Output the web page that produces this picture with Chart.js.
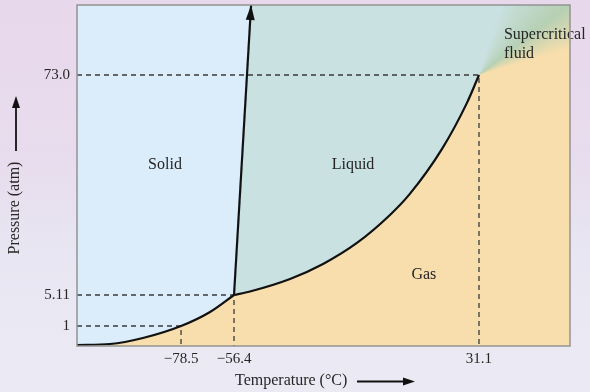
<!DOCTYPE html>
<html><head><meta charset="utf-8">
<script src="https://cdn.jsdelivr.net/npm/chart.js@4"></script>
<style>
html,body{margin:0;padding:0;}
body{width:590px;height:392px;overflow:hidden;background:linear-gradient(180deg,#e8d8eb 0%,#e7dced 40%,#e8e6f2 65%,#ebeaf4 100%);}
#wrap{position:relative;width:590px;height:392px}
</style></head><body>
<div id="wrap"><canvas id="c" width="590" height="392"></canvas></div>
<script>
// ---- data (°C, atm) ----
const keyTemps = [-78.5, -56.4, 31.1];
const keyPressures = [1, 5.11, 73.0];
const xTickLabels = ['\u221278.5', '\u221256.4', '31.1'];
const yTickLabels = ['1', '5.11', '73.0'];
const tempRange = [-120, 64];
const pressRange = [0, 95];
const sublimT = [-120, -106.8, -93.7, -78.5, -66.4, -56.4];
const sublimP = [0.05, 0.1, 0.4, 1, 2.86, 5.11];
const vaporT = [-56.4, -50.7, -36.4, -24.6, -12.5, -0.7, 6.4, 17.9, 26.8, 31.1];
const vaporP = [5.11, 6.19, 10.05, 14.68, 21.16, 29.8, 36.3, 50.2, 64.4, 73.0];
const meltT = [-56.4, -50.3];
const meltP = [5.11, 95];
const regionNames = ['Solid', 'Liquid', 'Gas', 'Supercritical', 'fluid'];
const regionT = [-84.9, -13.9, 11.4, 40.1, 40.1];
const regionP = [45.2, 45.2, 11.3, 85.6, 79.6];

// ---- styles ----
const solidColor = '#dbedfb';
const liquidColor = '#c9e1e0';
const gasColor = '#f7deac';
const textColor = '#262626';
const serif = "'Liberation Serif', 'Times New Roman', serif";

// piecewise (schematic) axis mapping: value anchors -> fraction of axis length
const axisAnchors = {
  x: { v: [tempRange[0], keyTemps[0], keyTemps[1], keyTemps[2], tempRange[1]], f: [0, 0.2110, 0.3185, 0.8154, 1] },
  y: { v: [pressRange[0], keyPressures[0], keyPressures[1], keyPressures[2], pressRange[1]], f: [0, 0.0587, 0.1496, 0.7947, 1] }
};
function interp(val, from, to) {
  let i = 0;
  while (i < from.length - 2 && val > from[i + 1]) i++;
  const t = (val - from[i]) / (from[i + 1] - from[i]);
  return to[i] + t * (to[i + 1] - to[i]);
}
class PiecewiseScale extends Chart.LinearScale {
  static id = 'piecewise';
  getPixelForValue(value) {
    if (value === null || value === undefined || isNaN(value)) return NaN;
    const a = axisAnchors[this.axis];
    return this.getPixelForDecimal(interp(value, a.v, a.f));
  }
  getValueForPixel(pixel) {
    const a = axisAnchors[this.axis];
    return interp(this.getDecimalForPixel(pixel), a.f, a.v);
  }
}
Chart.register(PiecewiseScale);

const pts = (xs, ys) => xs.map((x, i) => ({ x, y: ys[i] }));
const guide = i => ({
  data: [{ x: tempRange[0], y: keyPressures[i] }, { x: keyTemps[i], y: keyPressures[i] }, { x: keyTemps[i], y: pressRange[0] }],
  borderColor: '#3a3a3a', borderWidth: 1.3, borderDash: [5, 4], fill: false, pointRadius: 0, tension: 0
});
const noPad = s => { s.paddingTop = 0; s.paddingBottom = 0; s.paddingLeft = 0; s.paddingRight = 0; };

const decor = {
  id: 'decor',
  beforeDraw(chart) {
    const { ctx, chartArea: a } = chart;
    ctx.save(); ctx.fillStyle = gasColor;
    ctx.fillRect(a.left, a.top, a.right - a.left, a.bottom - a.top);
    ctx.restore();
  },
  afterDatasetsDraw(chart) {
    const { ctx, scales } = chart;
    const m = chart.getDatasetMeta(0).data;
    const p1 = m[m.length - 1], p0 = m[m.length - 2];
    const ang = Math.atan2(p1.y - p0.y, p1.x - p0.x);
    const L = 15, W = 4.5;
    ctx.save();
    ctx.fillStyle = '#111';
    ctx.beginPath();
    ctx.moveTo(p1.x, p1.y);
    ctx.lineTo(p1.x - L * Math.cos(ang) - W * Math.sin(ang), p1.y - L * Math.sin(ang) + W * Math.cos(ang));
    ctx.lineTo(p1.x - L * Math.cos(ang) + W * Math.sin(ang), p1.y - L * Math.sin(ang) - W * Math.cos(ang));
    ctx.closePath(); ctx.fill();
    ctx.fillStyle = textColor;
    ctx.font = '16px ' + serif;
    ctx.textBaseline = 'middle';
    regionNames.forEach((n, i) => {
      ctx.textAlign = i >= 3 ? 'left' : 'center';
      ctx.fillText(n, scales.x.getPixelForValue(regionT[i]), scales.y.getPixelForValue(regionP[i]));
    });
    ctx.restore();
  },
  afterDraw(chart) {
    const { ctx, chartArea: a } = chart;
    ctx.save();
    ctx.strokeStyle = '#939393'; ctx.lineWidth = 1.5;
    ctx.strokeRect(a.left, a.top, a.right - a.left, a.bottom - a.top);
    ctx.fillStyle = textColor; ctx.strokeStyle = '#111';
    ctx.font = '16px ' + serif;
    ctx.textBaseline = 'middle';
    ctx.textAlign = 'left';
    ctx.fillText('Temperature (\u00B0C)', 235, 381);
    ctx.lineWidth = 1.8;
    ctx.beginPath(); ctx.moveTo(357, 381.5); ctx.lineTo(406, 381.5); ctx.stroke();
    ctx.fillStyle = '#111';
    ctx.beginPath(); ctx.moveTo(415, 381.5); ctx.lineTo(403, 377.5); ctx.lineTo(403, 385.5); ctx.closePath(); ctx.fill();
    ctx.save();
    ctx.translate(15, 208); ctx.rotate(-Math.PI / 2);
    ctx.fillStyle = textColor; ctx.textAlign = 'center';
    ctx.fillText('Pressure (atm)', 0, 0);
    ctx.restore();
    ctx.beginPath(); ctx.moveTo(16, 151); ctx.lineTo(16, 105); ctx.stroke();
    ctx.beginPath(); ctx.moveTo(16, 96); ctx.lineTo(12, 108); ctx.lineTo(20, 108); ctx.closePath(); ctx.fill();
    ctx.restore();
  }
};

new Chart(document.getElementById('c'), {
  type: 'line',
  data: {
    datasets: [
      { data: pts(meltT, meltP), borderColor: '#111', borderWidth: 2.2, backgroundColor: solidColor, fill: 'end', pointRadius: 0, tension: 0 },
      { data: pts(sublimT, sublimP), borderColor: '#111', borderWidth: 2.2, backgroundColor: solidColor, fill: 'end', pointRadius: 0, cubicInterpolationMode: 'monotone' },
      { data: pts(vaporT, vaporP), borderColor: '#111', borderWidth: 2.2, backgroundColor: liquidColor, fill: 'end', pointRadius: 0, cubicInterpolationMode: 'monotone' },
      guide(0), guide(1), guide(2),
      { data: [{ x: keyTemps[2], y: keyPressures[2] }, { x: tempRange[1], y: keyPressures[2] }],
        borderWidth: 0, borderColor: 'rgba(0,0,0,0)', pointRadius: 0, fill: 'end',
        backgroundColor: (c) => {
          const ch = c.chart;
          if (!ch.chartArea || !ch.scales.x) return gasColor;
          const cx = ch.scales.x.getPixelForValue(keyTemps[2]);
          const cy = ch.scales.y.getPixelForValue(keyPressures[2]);
          const g = ch.ctx.createConicGradient(-Math.PI / 2, cx, cy);
          g.addColorStop(0, liquidColor);
          g.addColorStop(0.05, liquidColor);
          g.addColorStop(0.145, '#b6d0b4');
          g.addColorStop(0.205, gasColor);
          g.addColorStop(1, gasColor);
          return g;
        } }
    ]
  },
  options: {
    responsive: false, animation: false, events: [],
    layout: { padding: { top: 5, right: 20, left: 0, bottom: 0 } },
    plugins: { legend: { display: false }, tooltip: { enabled: false }, filler: { drawTime: 'beforeDatasetsDraw' } },
    scales: {
      x: {
        type: 'piecewise', min: tempRange[0], max: tempRange[1],
        grid: { display: false, drawTicks: false }, border: { display: false },
        afterBuildTicks: s => { s.ticks = keyTemps.map(v => ({ value: v })); },
        afterFit: s => { s.height = 46; noPad(s); },
        ticks: { autoSkip: false, maxRotation: 0, padding: 4, color: textColor, font: { family: serif, size: 15 }, callback: (v, i) => xTickLabels[i] }
      },
      y: {
        type: 'piecewise', min: pressRange[0], max: pressRange[1],
        grid: { display: false, drawTicks: false }, border: { display: false },
        afterBuildTicks: s => { s.ticks = keyPressures.map(v => ({ value: v })); },
        afterFit: s => { s.width = 77; noPad(s); },
        ticks: { autoSkip: false, padding: 7, color: textColor, font: { family: serif, size: 15 }, callback: (v, i) => yTickLabels[i] }
      }
    }
  },
  plugins: [decor]
});
</script>
</body></html>
